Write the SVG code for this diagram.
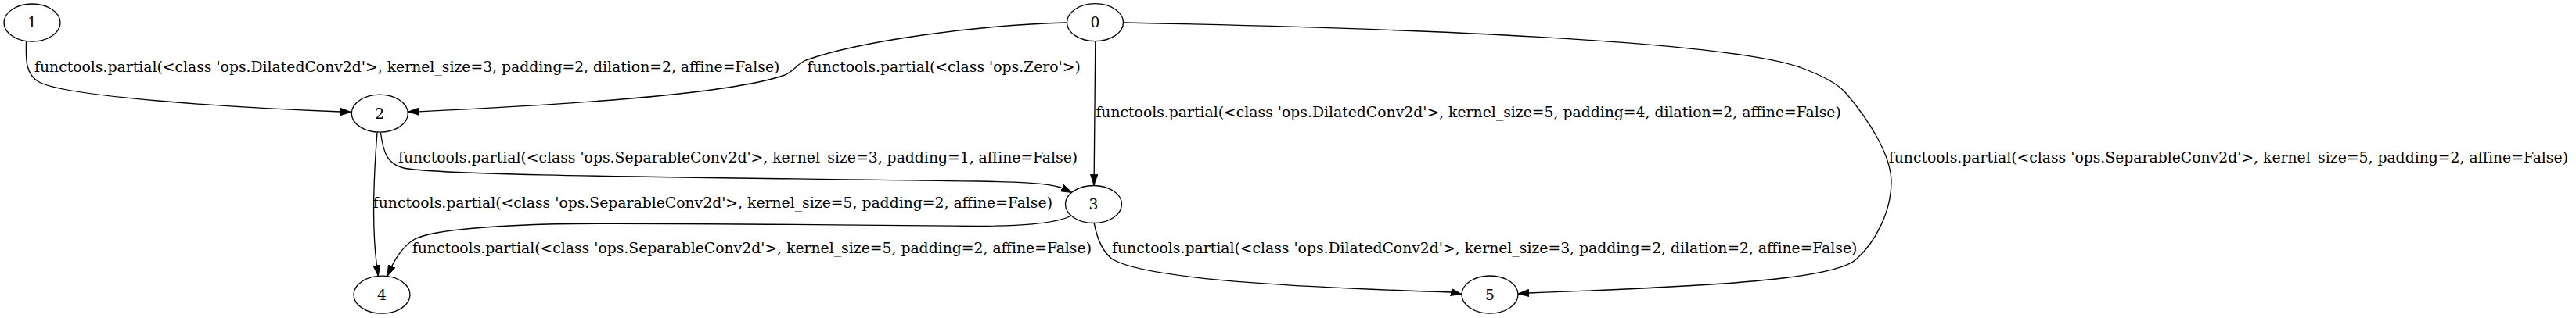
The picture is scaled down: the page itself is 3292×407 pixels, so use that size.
<svg xmlns="http://www.w3.org/2000/svg" width="3292" height="407" viewBox="0 0 3292 407">
<defs>
<style>
.n ellipse{fill:none;stroke:#000;stroke-width:1.33}
.n text{font-family:"DejaVu Serif","Liberation Serif",serif;font-size:18.67px;text-anchor:middle;fill:#000}
.e path{fill:none;stroke:#000;stroke-width:1.33;marker-end:url(#arr)}
.lbl{font-family:"DejaVu Serif","Liberation Serif",serif;font-size:18.8px;fill:#000}
</style>
<marker id="arr" markerUnits="userSpaceOnUse" viewBox="0 0 14 10" refX="14" refY="5" markerWidth="14" markerHeight="10" orient="auto">
<path d="M0,0.3 L14,5 L0,9.7 Z" fill="#000" stroke="#000" stroke-width="0.8"/>
</marker>
</defs>
<rect width="3292" height="407" fill="#fff"/>
<g id="edges" class="e">
<path id="e1_2" d="M33.5,53 C33,75 32,95 50,105 C85,124 300,138 435.5,143 L449,143.5"/>
<path id="e0_2" d="M1363,29 C1250,32 1100,52 1030,77 C1018,82 1016,90 1003,96 C930,122 700,135 535,142.8 L521.5,143"/>
<path id="e0_3" d="M1399.8,52.7 L1398.2,224 L1398,237.3"/>
<path id="e0_5" d="M1436,29 C1800,36 2200,52 2300,86 C2330,97 2348,107 2358,118 C2390,155 2417,200 2417,233 C2417,270 2397,310 2372,332 C2345,357 2200,366 1953.5,375 L1940,376"/>
<path id="e2_3" d="M486.5,170 C490,196 495,210 516,215 C560,225 900,227 1250,232 C1300,233 1336,234 1356,240 L1370,246.5"/>
<path id="e2_4" d="M482,169.5 C478,220 475,290 481.5,340 L483.3,353.3"/>
<path id="e3_4" d="M1367,277 C1345,287 1300,289 1250,289.5 C1000,287 750,285 700,287 C600,290 548,297 530,306 C515,315 507,328 500.5,341 L495,353.5"/>
<path id="e3_5" d="M1398.3,286 C1402,305 1408,322 1422,332 C1470,360 1700,369 1854.5,374 L1868,376.5"/>
</g>
<g id="labels">
<text class="lbl" x="44" y="92">functools.partial(&lt;class 'ops.DilatedConv2d'&gt;, kernel_size=3, padding=2, dilation=2, affine=False)</text>
<text class="lbl" x="1031.6" y="92">functools.partial(&lt;class 'ops.Zero'&gt;)</text>
<text class="lbl" x="1400.4" y="150">functools.partial(&lt;class 'ops.DilatedConv2d'&gt;, kernel_size=5, padding=4, dilation=2, affine=False)</text>
<text class="lbl" x="2413.8" y="208">functools.partial(&lt;class 'ops.SeparableConv2d'&gt;, kernel_size=5, padding=2, affine=False)</text>
<text class="lbl" x="509" y="208">functools.partial(&lt;class 'ops.SeparableConv2d'&gt;, kernel_size=3, padding=1, affine=False)</text>
<text class="lbl" x="476.8" y="266">functools.partial(&lt;class 'ops.SeparableConv2d'&gt;, kernel_size=5, padding=2, affine=False)</text>
<text class="lbl" x="526.8" y="324">functools.partial(&lt;class 'ops.SeparableConv2d'&gt;, kernel_size=5, padding=2, affine=False)</text>
<text class="lbl" x="1421" y="324">functools.partial(&lt;class 'ops.DilatedConv2d'&gt;, kernel_size=3, padding=2, dilation=2, affine=False)</text>
</g>
<g id="node0" class="n"><ellipse cx="1399.5" cy="28.7" rx="36" ry="24"/><text x="1399.5" y="35">0</text></g>
<g id="node1" class="n"><ellipse cx="41" cy="29" rx="36" ry="24"/><text x="41" y="35">1</text></g>
<g id="node2" class="n"><ellipse cx="485.3" cy="145.2" rx="36" ry="24"/><text x="485.3" y="151.5">2</text></g>
<g id="node3" class="n"><ellipse cx="1397.5" cy="261.5" rx="36" ry="24"/><text x="1397.5" y="268">3</text></g>
<g id="node4" class="n"><ellipse cx="488" cy="377.2" rx="36" ry="24"/><text x="488" y="383.5">4</text></g>
<g id="node5" class="n"><ellipse cx="1904" cy="377" rx="36" ry="24"/><text x="1904" y="383.5">5</text></g>
</svg>
